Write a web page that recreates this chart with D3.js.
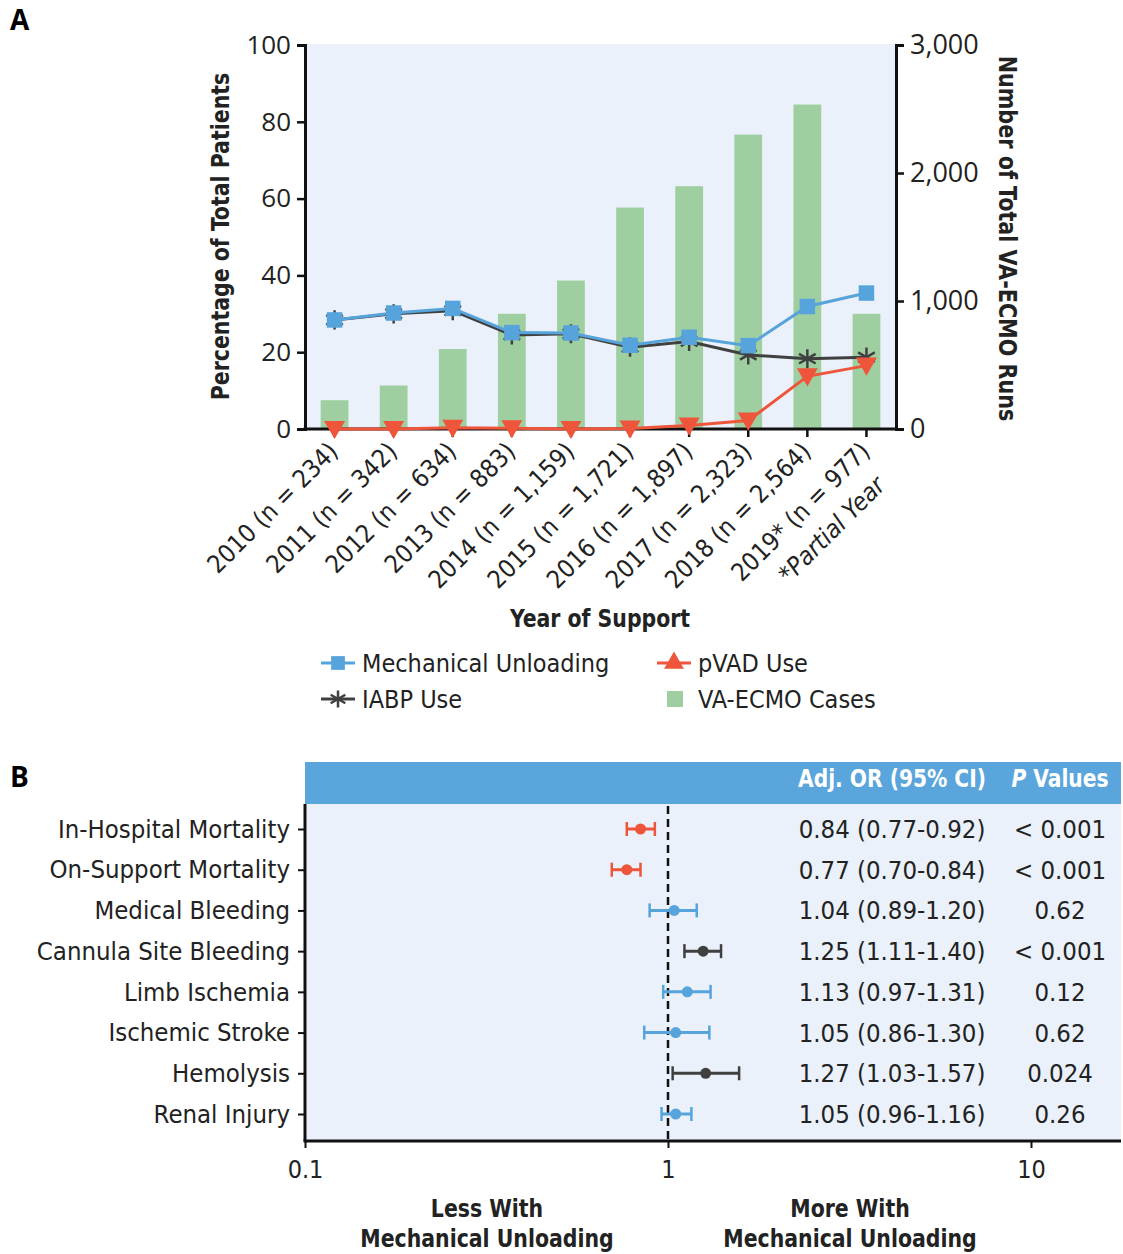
<!DOCTYPE html>
<html><head><meta charset="utf-8">
<script src="https://cdn.jsdelivr.net/npm/d3@7"></script>
<style>
body{margin:0;background:#fff}
svg{display:block}
.cond{font-family:"Liberation Sans Narrow","DejaVu Sans Condensed","Roboto",sans-serif}
.reg{font-family:"Open Sans","Noto Sans",sans-serif}
</style></head><body>
<svg id="c" width="1123" height="1254"></svg>
<script>
// ---------- Panel A data ----------
const years = ["2010","2011","2012","2013","2014","2015","2016","2017","2018","2019*"];
const yearN = ["234","342","634","883","1,159","1,721","1,897","2,323","2,564","977"];
const ecmoBars = [225,340,625,900,1160,1730,1897,2300,2535,900];
const mechUnloading = [28.4,30.2,31.4,25.1,25.0,21.8,23.9,21.7,31.9,35.4];
const iabpUse = [28.4,30.0,30.8,24.5,24.8,21.3,22.8,19.3,18.3,18.7];
const pvadUse = [0.0,0.0,0.3,0.2,0.0,0.1,0.9,2.2,13.7,16.5];
const leftTicks = [0,20,40,60,80,100];
const rightTicks = [0,1000,2000,3000];

// ---------- Panel B data ----------
const outcomes = ["In-Hospital Mortality","On-Support Mortality","Medical Bleeding","Cannula Site Bleeding","Limb Ischemia","Ischemic Stroke","Hemolysis","Renal Injury"];
const orVals = [0.84,0.77,1.04,1.25,1.13,1.05,1.27,1.05];
const orLow  = [0.77,0.70,0.89,1.11,0.97,0.86,1.03,0.96];
const orHigh = [0.92,0.84,1.20,1.40,1.31,1.30,1.57,1.16];
const orText = ["0.84 (0.77-0.92)","0.77 (0.70-0.84)","1.04 (0.89-1.20)","1.25 (1.11-1.40)","1.13 (0.97-1.31)","1.05 (0.86-1.30)","1.27 (1.03-1.57)","1.05 (0.96-1.16)"];
const pVals = ["< 0.001","< 0.001","0.62","< 0.001","0.12","0.62","0.024","0.26"];
const orTicks = [0.1,1,10];

const BLUE="#57a3db", RED="#ee553b", GRAY="#404040", GREEN="#9fcfa0", BG="#eaf1fa";
const svg = d3.select("#c");

function boldText(x,y,txt,opts={}){
  const t = svg.append("text").attr("class","cond").attr("font-size",opts.size||25).attr("font-weight","bold")
    .attr("fill",opts.fill||"#222").attr("text-anchor",opts.anchor||"middle")
    .attr("transform",`translate(${x},${y}) rotate(${opts.rot||0}) scale(${opts.sx||0.9},1)`);
  if(txt!==null) t.text(txt);
  return t;
}

// ================= Panel A =================
const A = {l:305, r:896, t:44, b:429};
svg.append("text").attr("class","reg").attr("x",10).attr("y",30).attr("font-size",28).attr("font-weight","bold").text("A");
svg.append("rect").attr("x",A.l).attr("y",A.t).attr("width",A.r-A.l).attr("height",A.b-A.t).attr("fill",BG);

const x = d3.scaleBand().domain(years).range([A.l,A.r]).paddingInner(0.53).paddingOuter(0.265);
const xc = d => x(d)+x.bandwidth()/2;
const yL = d3.scaleLinear().domain([0,100]).range([A.b,A.t+1]);
const yR = d3.scaleLinear().domain([0,3000]).range([A.b,A.t+1]);

svg.append("g").selectAll("rect").data(years).join("rect")
  .attr("x",d=>x(d)).attr("width",x.bandwidth())
  .attr("y",(d,i)=>yR(ecmoBars[i])).attr("height",(d,i)=>A.b-yR(ecmoBars[i]))
  .attr("fill",GREEN);

// axes
const gL = svg.append("g").attr("transform",`translate(${A.l},0)`)
  .call(d3.axisLeft(yL).tickValues(leftTicks).tickSize(8).tickPadding(6));
const gR = svg.append("g").attr("transform",`translate(${A.r},0)`)
  .call(d3.axisRight(yR).tickValues(rightTicks).tickFormat(d3.format(",")).tickSize(8).tickPadding(6));
const gB = svg.append("g").attr("transform",`translate(0,${A.b})`)
  .call(d3.axisBottom(x).tickSize(8).tickFormat(""));
[gL,gR,gB].forEach(g=>{
  g.select(".domain").attr("stroke","#111").attr("stroke-width",3);
  g.selectAll(".tick line").attr("stroke","#111").attr("stroke-width",2.5);
  g.selectAll(".tick text").attr("class","reg").attr("font-size",26).attr("fill","#222");
});
gR.selectAll(".tick text").attr("font-size",27);
gB.select(".domain").attr("d",`M${A.l-1.5},0H${A.r+1.5}`);

// x labels rotated
const xl = svg.append("g");
years.forEach((yr,i)=>{
  xl.append("text").attr("class","cond").attr("font-size",25).attr("fill","#222")
    .attr("text-anchor","end")
    .attr("transform",`translate(${xc(yr)+5},${A.b+24}) rotate(-45)`)
    .text(`${yr} (n = ${yearN[i]})`);
});
xl.append("text").attr("class","cond").attr("font-size",25).attr("fill","#222").attr("font-style","italic")
  .attr("text-anchor","end")
  .attr("transform",`translate(${xc(years[9])+20},${A.b+58}) rotate(-45)`)
  .text("*Partial Year");

boldText(600,627,"Year of Support",{sx:0.91});
boldText(229,(A.t+A.b)/2,"Percentage of Total Patients",{size:24,rot:-90,sx:0.95});
boldText(999,(A.t+A.b)/2+2,"Number of Total VA-ECMO Runs",{size:24,rot:90,sx:0.96});

// lines
const line = d3.line().x((d,i)=>xc(years[i])).y(d=>yL(d));
const sq = d3.symbol().type(d3.symbolSquare).size(240);
const ast = d3.symbol().type(d3.symbolAsterisk).size(260);
const tri = d3.symbol().type(d3.symbolTriangle).size(190);

svg.append("path").datum(iabpUse).attr("d",line).attr("fill","none").attr("stroke",GRAY).attr("stroke-width",3);
svg.append("g").selectAll("path").data(iabpUse).join("path")
  .attr("transform",(d,i)=>`translate(${xc(years[i])},${yL(d)})`).attr("d",ast)
  .attr("fill","none").attr("stroke",GRAY).attr("stroke-width",2.5);
svg.append("path").datum(mechUnloading).attr("d",line).attr("fill","none").attr("stroke",BLUE).attr("stroke-width",3);
svg.append("g").selectAll("path").data(mechUnloading).join("path")
  .attr("transform",(d,i)=>`translate(${xc(years[i])},${yL(d)})`).attr("d",sq).attr("fill",BLUE);
svg.append("path").datum(pvadUse).attr("d",line).attr("fill","none").attr("stroke",RED).attr("stroke-width",3);
svg.append("g").selectAll("path").data(pvadUse).join("path")
  .attr("transform",(d,i)=>`translate(${xc(years[i])},${yL(d)-2}) rotate(180)`).attr("d",tri).attr("fill",RED);

// legend
const leg = svg.append("g");
function legLine(x0,y0,color,sym,fillSym,label){
  leg.append("line").attr("x1",x0).attr("x2",x0+34).attr("y1",y0).attr("y2",y0).attr("stroke",color).attr("stroke-width",3);
  const p = leg.append("path").attr("transform",`translate(${x0+17},${y0})`).attr("d",sym);
  if(fillSym) p.attr("fill",color); else p.attr("fill","none").attr("stroke",color).attr("stroke-width",2.5);
  leg.append("text").attr("class","cond").attr("font-size",25).attr("fill","#222").attr("x",x0+41).attr("y",y0+9).text(label);
}
legLine(321,663,BLUE,d3.symbol().type(d3.symbolSquare).size(190)(),true,"Mechanical Unloading");
legLine(321,699,GRAY,d3.symbol().type(d3.symbolAsterisk).size(200)(),false,"IABP Use");
legLine(657,663,RED,d3.symbol().type(d3.symbolTriangle).size(170)(),true,"pVAD Use");
leg.append("rect").attr("x",667).attr("y",691).attr("width",16).attr("height",16).attr("fill",GREEN);
leg.append("text").attr("class","cond").attr("font-size",25).attr("fill","#222").attr("x",698).attr("y",708).text("VA-ECMO Cases");

// ================= Panel B =================
const B = {l:305, r:1121, hTop:762, t:804, b:1141};
svg.append("text").attr("class","reg").attr("x",10).attr("y",787).attr("font-size",28).attr("font-weight","bold").text("B");
svg.append("rect").attr("x",B.l).attr("y",B.hTop).attr("width",B.r-B.l).attr("height",B.t-B.hTop).attr("fill","#5aa5dc");
svg.append("rect").attr("x",B.l).attr("y",B.t).attr("width",B.r-B.l).attr("height",B.b-B.t).attr("fill",BG);
boldText(892,787,"Adj. OR (95% CI)",{fill:"#fff",sx:0.9});
const pv = boldText(1060,787,null,{fill:"#fff",sx:0.9});
pv.append("tspan").attr("font-style","italic").text("P");
pv.append("tspan").text(" Values");

const fx = d3.scaleLog().domain([0.1,10]).range([B.l,1031]);
const fy = d3.scalePoint().domain(outcomes).range([829,1114]);

const fl = svg.append("g").attr("transform",`translate(${B.l},0)`)
  .call(d3.axisLeft(fy).tickSize(7).tickPadding(8));
fl.select(".domain").attr("d",`M0,${B.t}V${B.b}`).attr("stroke","#111").attr("stroke-width",3);
fl.selectAll(".tick line").attr("stroke","#111").attr("stroke-width",2);
fl.selectAll(".tick text").attr("class","cond").attr("font-size",25.5).attr("fill","#222");

const fb = svg.append("g").attr("transform",`translate(0,${B.b})`)
  .call(d3.axisBottom(fx).tickValues(orTicks).tickFormat(d=>String(d)).tickSize(7).tickPadding(12));
fb.select(".domain").attr("d",`M${B.l-1.5},0H${B.r}`).attr("stroke","#111").attr("stroke-width",3);
fb.selectAll(".tick line").attr("stroke","#111").attr("stroke-width",2);
fb.selectAll(".tick text").attr("class","cond").attr("font-size",25).attr("fill","#222");

svg.append("line").attr("x1",fx(1)).attr("x2",fx(1)).attr("y1",B.t+2).attr("y2",B.b)
  .attr("stroke","#111").attr("stroke-width",2.5).attr("stroke-dasharray","8,5");

const colorOf = i => orHigh[i] < 1 ? RED : (orLow[i] > 1 ? GRAY : BLUE);
const rows = svg.append("g").selectAll("g").data(outcomes).join("g")
  .attr("transform",d=>`translate(0,${fy(d)})`);
rows.append("line").attr("x1",(d,i)=>fx(orLow[i])).attr("x2",(d,i)=>fx(orHigh[i])).attr("stroke",(d,i)=>colorOf(i)).attr("stroke-width",3);
rows.append("line").attr("x1",(d,i)=>fx(orLow[i])).attr("x2",(d,i)=>fx(orLow[i])).attr("y1",-7).attr("y2",7).attr("stroke",(d,i)=>colorOf(i)).attr("stroke-width",2.5);
rows.append("line").attr("x1",(d,i)=>fx(orHigh[i])).attr("x2",(d,i)=>fx(orHigh[i])).attr("y1",-7).attr("y2",7).attr("stroke",(d,i)=>colorOf(i)).attr("stroke-width",2.5);
rows.append("circle").attr("cx",(d,i)=>fx(orVals[i])).attr("r",5.5).attr("fill",(d,i)=>colorOf(i));
rows.append("text").attr("class","cond").attr("font-size",25.5).attr("fill","#222").attr("x",892).attr("y",9).attr("text-anchor","middle").text((d,i)=>orText[i]);
rows.append("text").attr("class","cond").attr("font-size",25.5).attr("fill","#222").attr("x",1060).attr("y",9).attr("text-anchor","middle").text((d,i)=>pVals[i]);

boldText(487,1217,"Less With",{sx:0.91});
boldText(487,1247,"Mechanical Unloading",{sx:0.91});
boldText(850,1217,"More With",{sx:0.91});
boldText(850,1247,"Mechanical Unloading",{sx:0.91});
</script>
</body></html>
